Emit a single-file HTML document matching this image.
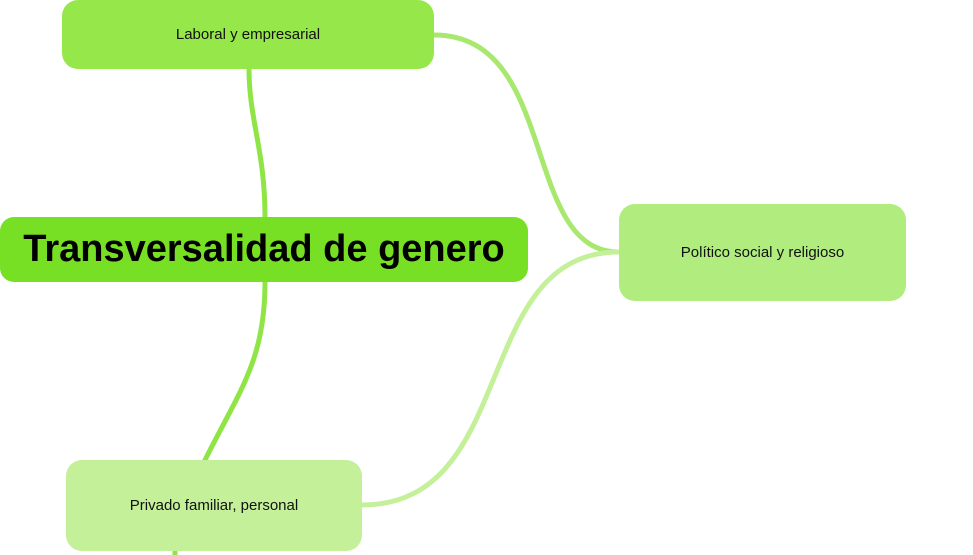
<!DOCTYPE html>
<html><head><meta charset="utf-8"><style>
html,body{margin:0;padding:0;background:#fff;width:973px;height:555px;overflow:hidden;position:relative;font-family:"Liberation Sans",sans-serif}
.b{position:absolute;display:flex;align-items:center;justify-content:center;border-radius:16px;color:#111;font-size:15px}
svg{position:absolute;left:0;top:0}
</style></head><body>
<svg width="973" height="555">
<g fill="none" stroke-linecap="round">
<path d="M249 69 C249 120 265 150 265 217" stroke="#8fe545" stroke-width="5"/>
<path d="M265 282 C265 360 240 390 205 460" stroke="#8fe545" stroke-width="5"/>
<path d="M175 551 L175 560" stroke="#8fe545" stroke-width="5"/>
<path d="M434 35 C560 35 520 252 619 252" stroke="#a8e86f" stroke-width="5"/>
<path d="M362 505 C520 505 470 252 619 252" stroke="#c4f09a" stroke-width="5"/>
</g>
</svg>
<div class="b" style="left:0;top:217px;width:528px;height:65px;background:#78e024;font-weight:bold;font-size:38px;color:#000;border-radius:14px">Transversalidad de genero</div>
<div class="b" style="left:62px;top:0;width:372px;height:69px;background:#96e84a">Laboral y empresarial</div>
<div class="b" style="left:619px;top:204px;width:287px;height:97px;background:#b0ec7e">Político social y religioso</div>
<div class="b" style="left:66px;top:460px;width:296px;height:91px;background:#c4f09a">Privado familiar, personal</div>
</body></html>
